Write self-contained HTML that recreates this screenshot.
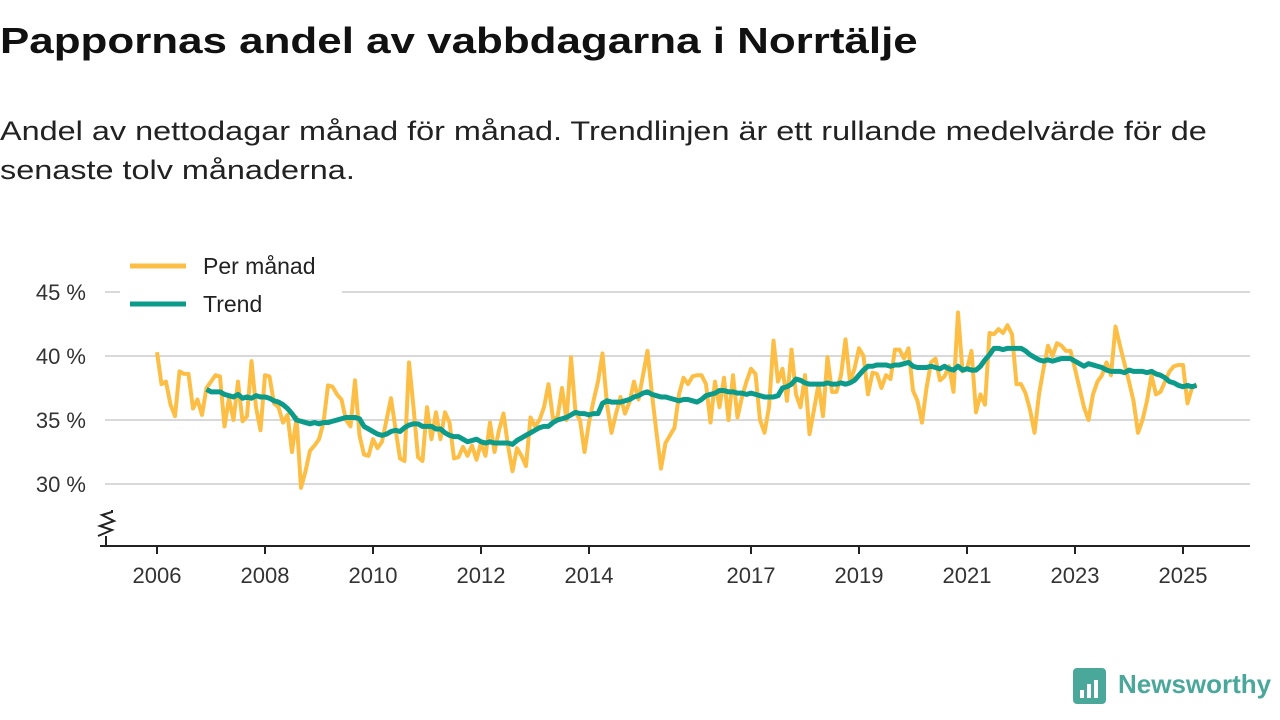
<!DOCTYPE html>
<html><head><meta charset="utf-8"><style>
body{margin:0;width:1280px;height:720px;background:#fff;font-family:"Liberation Sans",sans-serif;overflow:hidden;position:relative}
h1{position:absolute;left:0;top:20px;margin:0;font-size:36px;font-weight:bold;color:#111;transform:scaleX(1.22);transform-origin:0 0;white-space:nowrap}
p{position:absolute;left:0;top:112px;margin:0;font-size:27px;line-height:39px;color:#222;width:1040px;transform:scaleX(1.2);transform-origin:0 0}
</style></head><body>
<h1>Pappornas andel av vabbdagarna i Norrtälje</h1>
<p>Andel av nettodagar månad för månad. Trendlinjen är ett rullande medelvärde för de senaste tolv månaderna.</p>
<svg id="c" width="1280" height="720" style="position:absolute;left:0;top:0"></svg>
<script>
const monthly=[
40.3,37.8,38.0,36.2,35.3,38.8,38.6,38.6,35.9,36.6,35.4,37.5,
38.0,38.5,38.4,34.5,36.7,35.0,38.0,34.9,35.3,39.6,36.0,34.2,
38.5,38.4,36.3,36.0,34.8,35.4,32.5,35.2,29.7,31.0,32.6,33.0,
33.5,34.8,37.7,37.6,37.0,36.6,35.0,34.5,38.1,33.8,32.3,32.2,
33.5,32.8,33.3,35.0,36.7,34.3,32.0,31.8,39.5,36.0,32.1,31.8,
36.0,33.5,35.6,33.5,35.6,34.8,32.0,32.1,32.9,32.2,33.0,31.9,
33.2,32.2,34.8,32.5,34.2,35.5,33.0,31.0,32.8,32.2,31.4,35.2,
34.5,35.0,36.0,37.8,35.1,35.2,37.5,35.0,39.9,35.6,35.0,32.5,
34.8,36.5,38.0,40.2,36.2,34.0,35.5,36.8,35.5,36.4,38.0,36.6,
38.5,40.4,37.0,34.0,31.2,33.2,33.8,34.4,37.0,38.3,37.8,38.4,
38.5,38.5,37.8,34.8,38.0,36.0,38.3,35.0,38.5,35.2,36.8,38.0,
39.0,38.6,35.0,34.0,36.0,41.2,38.0,39.0,36.5,40.5,37.0,36.0,
38.5,33.9,35.8,37.8,35.3,39.9,37.2,37.2,38.5,41.3,38.0,39.0,
40.6,40.0,37.0,38.7,38.6,37.5,38.5,38.2,40.5,40.5,39.8,40.6,
37.3,36.5,34.8,37.5,39.5,39.8,38.1,38.4,39.2,37.2,43.4,38.8,
39.0,40.4,35.6,37.0,36.2,41.8,41.7,42.1,41.8,42.4,41.7,37.8,
37.8,37.1,35.8,34.0,37.0,39.0,40.8,40.0,41.0,40.8,40.4,40.4,
39.0,37.5,36.0,35.0,37.0,38.0,38.5,39.5,38.5,42.3,40.8,39.4,
38.0,36.5,34.0,35.0,36.5,38.5,37.0,37.2,38.0,38.8,39.2,39.3,
39.3,36.3,37.5,37.8];
const trendStart=11;
const trend=[37.4,
37.2,37.2,37.2,37.0,36.9,36.8,37.0,36.7,36.8,36.7,36.9,36.8,
36.8,36.7,36.5,36.4,36.2,35.9,35.5,35.0,34.9,34.8,34.7,34.8,
34.7,34.8,34.8,34.9,35.0,35.1,35.2,35.2,35.2,35.1,34.5,34.3,
34.1,33.9,33.8,33.9,34.1,34.2,34.1,34.4,34.6,34.7,34.7,34.5,
34.5,34.5,34.3,34.3,34.0,33.8,33.7,33.7,33.5,33.3,33.4,33.5,
33.3,33.2,33.3,33.2,33.2,33.2,33.2,33.1,33.4,33.6,33.8,34.0,
34.2,34.4,34.5,34.5,34.8,35.0,35.1,35.2,35.4,35.6,35.5,35.5,
35.4,35.5,35.5,36.3,36.5,36.4,36.4,36.4,36.5,36.6,36.8,36.9,
37.1,37.2,37.0,36.9,36.8,36.8,36.7,36.6,36.5,36.6,36.6,36.5,
36.4,36.6,36.9,37.0,37.1,37.3,37.3,37.2,37.2,37.1,37.1,37.0,
37.1,37.0,36.9,36.8,36.8,36.8,36.9,37.5,37.6,37.8,38.2,38.1,
37.9,37.8,37.8,37.8,37.8,37.9,37.8,37.8,37.9,37.8,37.9,38.1,
38.5,38.9,39.2,39.2,39.3,39.3,39.3,39.2,39.3,39.3,39.4,39.5,
39.2,39.1,39.1,39.1,39.2,39.1,39.0,39.2,39.0,38.9,39.2,38.9,
39.0,38.9,38.9,39.2,39.7,40.1,40.6,40.6,40.5,40.6,40.6,40.6,
40.6,40.4,40.1,39.9,39.7,39.6,39.7,39.6,39.7,39.8,39.8,39.8,
39.6,39.4,39.2,39.4,39.3,39.2,39.1,38.9,38.8,38.8,38.8,38.7,
38.9,38.8,38.8,38.8,38.7,38.8,38.6,38.5,38.3,38.0,37.9,37.7,
37.6,37.7,37.6,37.7];
const yTicks=[30,35,40,45];
const xYears=[2006,2008,2010,2012,2014,2017,2019,2021,2023,2025];
const X=m=>157+m*54/12, Y=v=>356-(v-40)*12.8;
const svg=document.getElementById('c'),NS='http://www.w3.org/2000/svg';
function add(t,a,txt){const e=document.createElementNS(NS,t);for(const k in a)e.setAttribute(k,a[k]);if(txt!=null)e.textContent=txt;svg.appendChild(e);return e;}
yTicks.forEach(v=>{
 let g=add('line',{x1:105,x2:1250,y1:Y(v),y2:Y(v),stroke:'#d9d9d9','stroke-width':2});
 
 
 let t=add('text',{x:86,y:Y(v)+8,'text-anchor':'end','font-size':22,fill:'#333','font-family':'Liberation Sans, sans-serif'},v+' %');
 
 
});
let ax=add('line',{x1:100,x2:1250,y1:546,y2:546,stroke:'#222','stroke-width':2});


let zz=add('polyline',{points:'98,536 112,530 100,526 114,521 102,515 112,512 112,510',fill:'none',stroke:'#222','stroke-width':2});


let zl=add('line',{x1:106,x2:106,y1:536,y2:546,stroke:'#222','stroke-width':2});


xYears.forEach(yr=>{
 const x=X((yr-2006)*12);
 let tk=add('line',{x1:x,x2:x,y1:546,y2:554,stroke:'#222','stroke-width':2});
 
 
 let t=add('text',{x:x,y:583,'text-anchor':'middle','font-size':22,fill:'#333','font-family':'Liberation Sans, sans-serif'},yr);
 
 
});
let pm=add('polyline',{points:monthly.map((v,i)=>X(i)+','+Y(v)).join(' '),fill:'none',stroke:'#fdbe45','stroke-width':4,'stroke-linejoin':'round'});


let tr=add('polyline',{points:trend.map((v,i)=>X(i+trendStart)+','+Y(v)).join(' '),fill:'none',stroke:'#0c9b8b','stroke-width':5,'stroke-linejoin':'round'});


let lb=add('rect',{x:120,y:248,width:222,height:72,fill:'#fff'});


[['Per månad','#fdbe45',266],['Trend','#0c9b8b',304]].forEach(([n,c,y])=>{
 let l=add('line',{x1:130,x2:186,y1:y,y2:y,stroke:c,'stroke-width':5});
 
 
 let t=add('text',{x:203,y:y+8,'font-size':23,fill:'#222','font-family':'Liberation Sans, sans-serif'},n);
 
 
});
let lg=add('rect',{x:1073,y:668,width:33,height:36,rx:4,fill:'#4aa89b'});


[[1080,690,4,8],[1087,684,4,14],[1094,680,4,18]].forEach(([x,y,w,h])=>{
 let b=add('rect',{x:x,y:y,width:w,height:h,fill:'#fff'});
 
 
});
let lt=add('text',{x:1118,y:693,'font-size':26,'font-weight':'bold',fill:'#4aa89b','font-family':'Liberation Sans, sans-serif'},'Newsworthy');


</script>
</body></html>
